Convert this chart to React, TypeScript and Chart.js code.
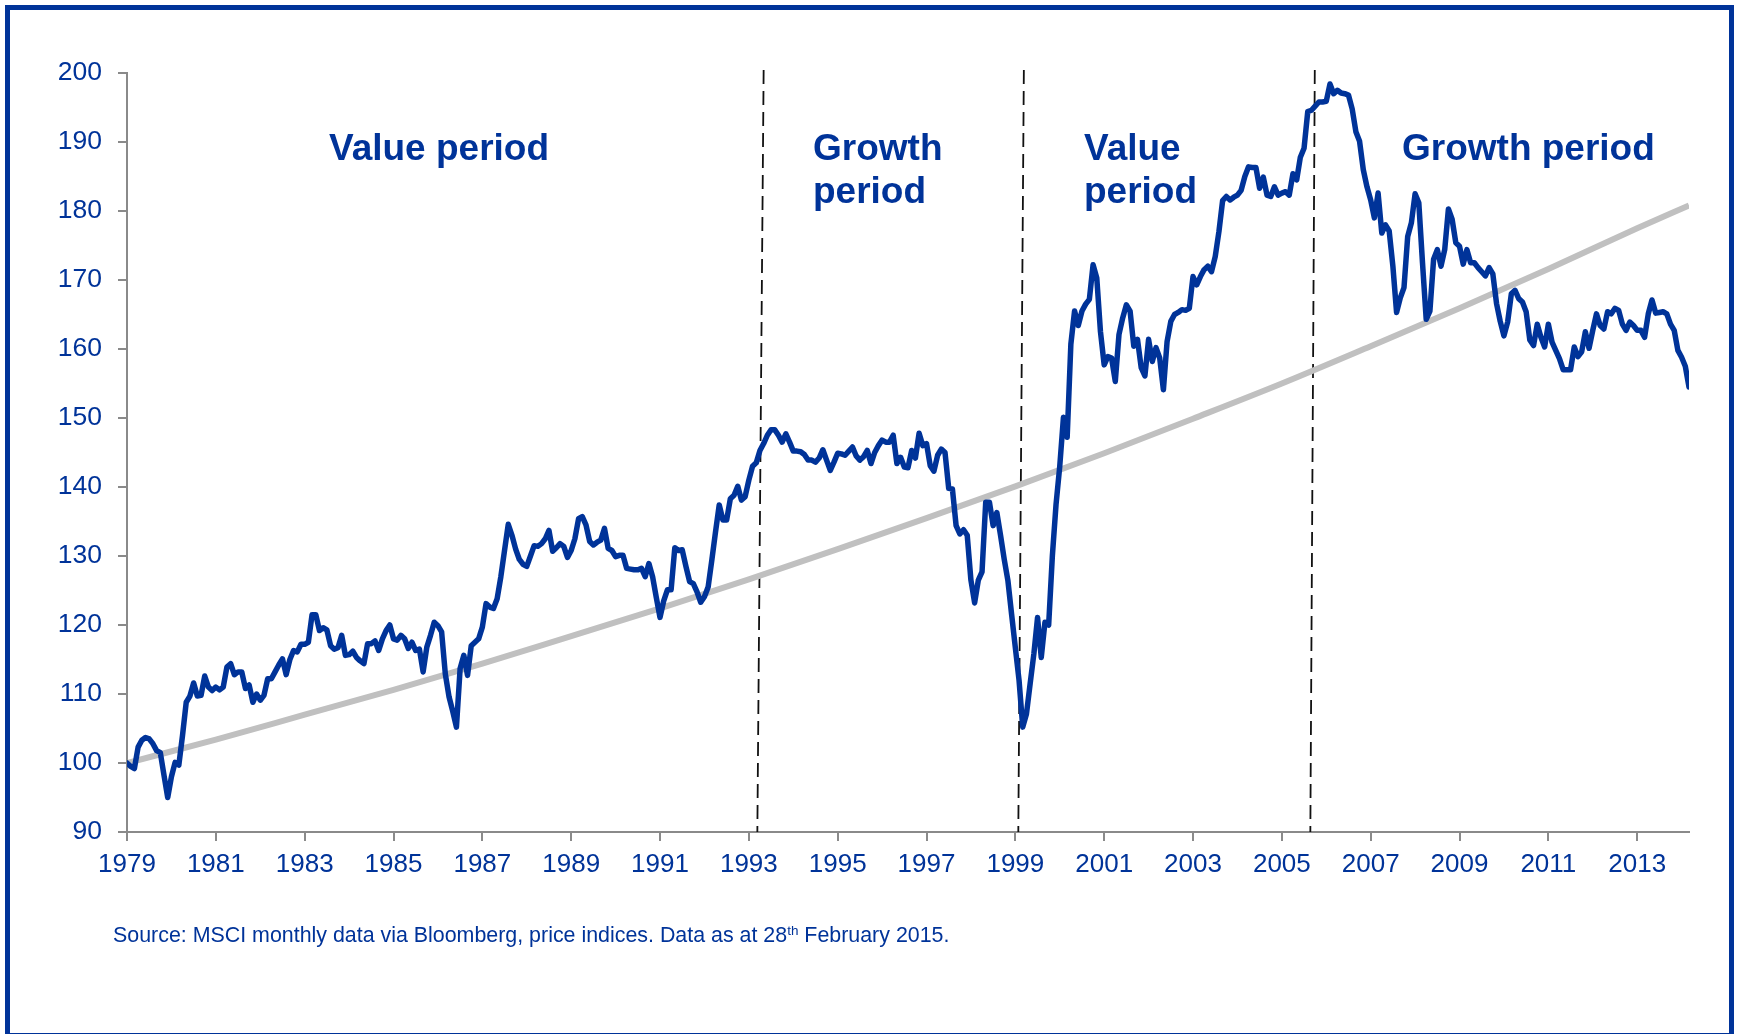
import React, { useEffect, useRef } from "react";
import { Chart, registerables } from "chart.js";

Chart.register(...registerables);

// ---- data ----
const yearTicks = ["1979", "1981", "1983", "1985", "1987", "1989", "1991", "1993", "1995", "1997", "1999", "2001", "2003", "2005", "2007", "2009", "2011", "2013"];
const monthsPerTick = 24;

// Value / growth relative index, monthly
const valueVsGrowth = [
  100, 99.5, 99.2, 102.3, 103.3, 103.7, 103.5, 102.8, 101.8, 101.5,
  98.2, 95, 98, 100.1, 99.7, 104, 108.8, 109.7, 111.6, 109.7,
  109.8, 112.6, 111, 110.5, 111, 110.6, 111, 113.9, 114.4, 112.8,
  113.2, 113.2, 110.8, 111.3, 108.8, 110, 109.1, 109.8, 112.2, 112.2,
  113.2, 114.2, 115.1, 112.8, 115, 116.3, 116.1, 117.2, 117.2, 117.5,
  121.5, 121.5, 119.2, 119.6, 119.3, 117, 116.5, 116.7, 118.5, 115.6,
  115.7, 116.2, 115.3, 114.8, 114.4, 117.3, 117.3, 117.7, 116.3, 118,
  119.2, 120, 118, 117.8, 118.5, 118, 116.6, 117.5, 116.3, 116.5,
  113.2, 116.8, 118.5, 120.4, 119.9, 119, 112.9, 109.6, 107.5, 105.2,
  113.7, 115.6, 112.7, 117, 117.5, 118, 119.7, 123.1, 122.6, 122.4,
  123.8, 127, 130.8, 134.6, 133, 131, 129.5, 128.8, 128.5, 130,
  131.5, 131.4, 131.8, 132.5, 133.7, 130.7, 131.2, 131.8, 131.4, 129.8,
  130.8, 132.5, 135.4, 135.7, 134.5, 132.1, 131.6, 132, 132.3, 134,
  131.1, 130.8, 129.9, 130.1, 130.1, 128.2, 128.1, 128, 128, 128.2,
  127, 128.9, 127, 124, 121.1, 123.5, 125.1, 125.1, 131.2, 130.8,
  130.9, 128.5, 126.3, 126, 124.8, 123.3, 124.1, 125.5, 129.4, 133.5,
  137.4, 135.2, 135.2, 138.3, 138.8, 140.1, 138.1, 138.6, 141, 143,
  143.5, 145.3, 146.3, 147.5, 148.3, 148.3, 147.5, 146.5, 147.7, 146.5,
  145.2, 145.2, 145.1, 144.7, 143.9, 143.9, 143.6, 144.2, 145.4, 143.9,
  142.4, 143.6, 144.9, 144.8, 144.6, 145.2, 145.8, 144.5, 143.9, 144.4,
  145.3, 143.4, 145, 146, 146.8, 146.5, 146.5, 147.5, 143.4, 144.3,
  142.9, 142.8, 145.3, 144.2, 147.8, 146, 146.3, 143.1, 142.3, 144.6,
  145.5, 145, 139.8, 139.7, 134.4, 133.2, 133.8, 133, 126.5, 123.2,
  126.5, 127.7, 137.8, 137.8, 134.4, 136.3, 133, 129.5, 126.4, 121.5,
  116.7, 112, 105.2, 107.1, 111.5, 115.8, 121.1, 115.3, 120.4, 120,
  130, 137.5, 143, 150.1, 147.2, 160.7, 165.5, 163.4, 165.5, 166.5,
  167.2, 172.2, 170.3, 162.5, 157.7, 158.9, 158.7, 155.3, 162.1, 164.5,
  166.4, 165.5, 160.4, 161.4, 157.3, 156.1, 161.4, 158.2, 160.2, 158.7,
  154.1, 161.1, 164, 165, 165.3, 165.7, 165.6, 165.9, 170.5, 169.3,
  170.5, 171.5, 172, 171.2, 173.4, 177, 181.5, 182.1, 181.6, 182,
  182.3, 183, 185, 186.4, 186.3, 186.3, 183.3, 184.9, 182.3, 182.1,
  183.5, 182.3, 182.6, 182.8, 182.3, 185.4, 184.5, 187.8, 189.1, 194.4,
  194.6, 195.2, 195.8, 195.8, 195.9, 198.4, 197, 197.5, 197.1, 197,
  196.8, 194.8, 191.5, 190.1, 186, 183.5, 181.6, 179, 182.6, 176.8,
  178, 177.1, 172, 165.3, 167.4, 168.9, 176.3, 178.3, 182.5, 181.2,
  172.5, 164.3, 165.5, 173, 174.4, 172, 174.4, 180.3, 178.8, 175.4,
  174.9, 172.3, 174.4, 172.5, 172.5, 171.8, 171.2, 170.6, 171.8, 170.9,
  166.6, 164, 161.9, 163.9, 168, 168.5, 167.3, 166.8, 165.4, 161.3,
  160.5, 163.6, 161.7, 160.3, 163.6, 161, 159.8, 158.6, 157, 157,
  157, 160.3, 158.9, 159.6, 162.5, 160.1, 162.7, 165.1, 163.4, 162.9,
  165.4, 165.1, 165.9, 165.6, 163.6, 162.7, 163.9, 163.4, 162.7, 162.7,
  161.7, 165.1, 167.1, 165.2, 165.3, 165.4, 165.1, 163.6, 162.7, 159.8,
  158.8, 157.5, 154.5,
];

// Trend line read at each tick month
const trendMonths = [0, 24, 48, 72, 96, 120, 144, 168, 192, 216, 240, 264, 288, 312, 336, 360, 384, 408, 422];
const trendValues = [100, 103.4, 107.0, 110.6, 114.4, 118.4, 122.4, 126.6, 131.0, 135.5, 140.1, 144.9, 149.9, 155.0, 160.4, 165.9, 171.6, 177.5, 180.8];

// Regime change markers (month index at top / bottom of the plot)
const breakTopMonths = [172.0, 242.3, 320.9];
const breakBottomMonths = [170.3, 240.8, 319.7];

const periodLabels = ["Value period", "Growth\nperiod", "Value\nperiod", "Growth period"];

const BLUE = "#003399";
const GREY_AXIS = "#8a8a8a";
const FONT = "'Liberation Sans', Arial, sans-serif";

const breaksPlugin = {
  id: "periodBreaks",
  beforeDatasetsDraw(chart: any) {
    const { ctx, chartArea, scales } = chart;
    const x = scales.x;
    ctx.save();
    ctx.strokeStyle = "#111";
    ctx.lineWidth = 1.8;
    ctx.setLineDash([14, 7]);
    for (let i = 0; i < breakTopMonths.length; i++) {
      ctx.beginPath();
      ctx.moveTo(x.getPixelForValue(breakTopMonths[i]), chartArea.top - 3);
      ctx.lineTo(x.getPixelForValue(breakBottomMonths[i]), chartArea.bottom);
      ctx.stroke();
    }
    ctx.restore();
  },
};

export default function App() {
  const ref = useRef<HTMLCanvasElement | null>(null);

  useEffect(() => {
    if (!ref.current) return;
    const chart = new Chart(ref.current, {
      type: "line",
      data: {
        datasets: [
          {
            label: "Value vs Growth",
            data: valueVsGrowth.map((v, i) => ({ x: i, y: v })),
            borderColor: BLUE,
            borderWidth: 5.5,
            pointRadius: 0,
            tension: 0,
            borderJoinStyle: "round",
            borderCapStyle: "round",
            order: 0,
          },
          {
            label: "Trend",
            data: trendMonths.map((m, i) => ({ x: m, y: trendValues[i] })),
            borderColor: "#c0c0c0",
            borderWidth: 6,
            pointRadius: 0,
            tension: 0.4,
            cubicInterpolationMode: "monotone",
            order: 1,
          },
        ],
      },
      options: {
        responsive: false,
        animation: false,
        devicePixelRatio: 1,
        layout: { padding: { left: 17, right: 48, top: 73, bottom: 0 } },
        plugins: { legend: { display: false }, tooltip: { enabled: false } },
        scales: {
          x: {
            type: "linear",
            min: 0,
            max: 422,
            afterFit: (s: any) => { s.height = 202; },
            ticks: {
              stepSize: monthsPerTick,
              includeBounds: false,
              autoSkip: false,
              maxRotation: 0,
              padding: 8,
              color: BLUE,
              font: { family: FONT, size: 26 },
              callback: (v: any) => yearTicks[Math.round(Number(v) / monthsPerTick)] ?? "",
            },
            grid: { drawOnChartArea: false, drawTicks: true, tickLength: 9, color: GREY_AXIS, lineWidth: 2 },
            border: { display: true, color: GREY_AXIS, width: 2 },
          },
          y: {
            min: 90,
            max: 200,
            afterFit: (s: any) => { s.width = 110; },
            ticks: {
              stepSize: 10,
              padding: 16,
              color: BLUE,
              font: { family: FONT, size: 26.5 },
            },
            grid: { drawOnChartArea: false, drawTicks: true, tickLength: 9, color: GREY_AXIS, lineWidth: 2 },
            border: { display: true, color: GREY_AXIS, width: 2 },
          },
        },
      },
      plugins: [breaksPlugin],
    } as any);
    return () => chart.destroy();
  }, []);

  const labelStyle: React.CSSProperties = {
    position: "absolute",
    color: BLUE,
    fontFamily: FONT,
    fontWeight: "bold",
    fontSize: 37,
    lineHeight: "43.4px",
    whiteSpace: "pre",
    margin: 0,
  };

  return (
    <div style={{ position: "absolute", left: 0, top: 0, width: 1737, height: 1034, overflow: "hidden", background: "#fff" }}>
      <div
        style={{
          position: "absolute",
          left: 5,
          top: 5,
          width: 1729,
          height: 1033,
          border: "5px solid " + BLUE,
          boxSizing: "border-box",
        }}
      />
      <canvas ref={ref} width={1737} height={1034} style={{ position: "absolute", left: 0, top: 0 }} />
      <div style={{ ...labelStyle, left: 329, top: 125.5 }}>{periodLabels[0]}</div>
      <div style={{ ...labelStyle, left: 813, top: 125.5 }}>{periodLabels[1]}</div>
      <div style={{ ...labelStyle, left: 1084, top: 125.5 }}>{periodLabels[2]}</div>
      <div style={{ ...labelStyle, left: 1402, top: 125.5 }}>{periodLabels[3]}</div>
      <div
        style={{
          position: "absolute",
          left: 113,
          top: 922.8,
          color: BLUE,
          fontFamily: FONT,
          fontSize: 21.4,
          lineHeight: "24px",
          whiteSpace: "nowrap",
        }}
      >
        Source: MSCI monthly data via Bloomberg, price indices. Data as at 28
        <sup style={{ fontSize: 13.5, lineHeight: 0, verticalAlign: "7px" }}>th</sup> February 2015.
      </div>
    </div>
  );
}
